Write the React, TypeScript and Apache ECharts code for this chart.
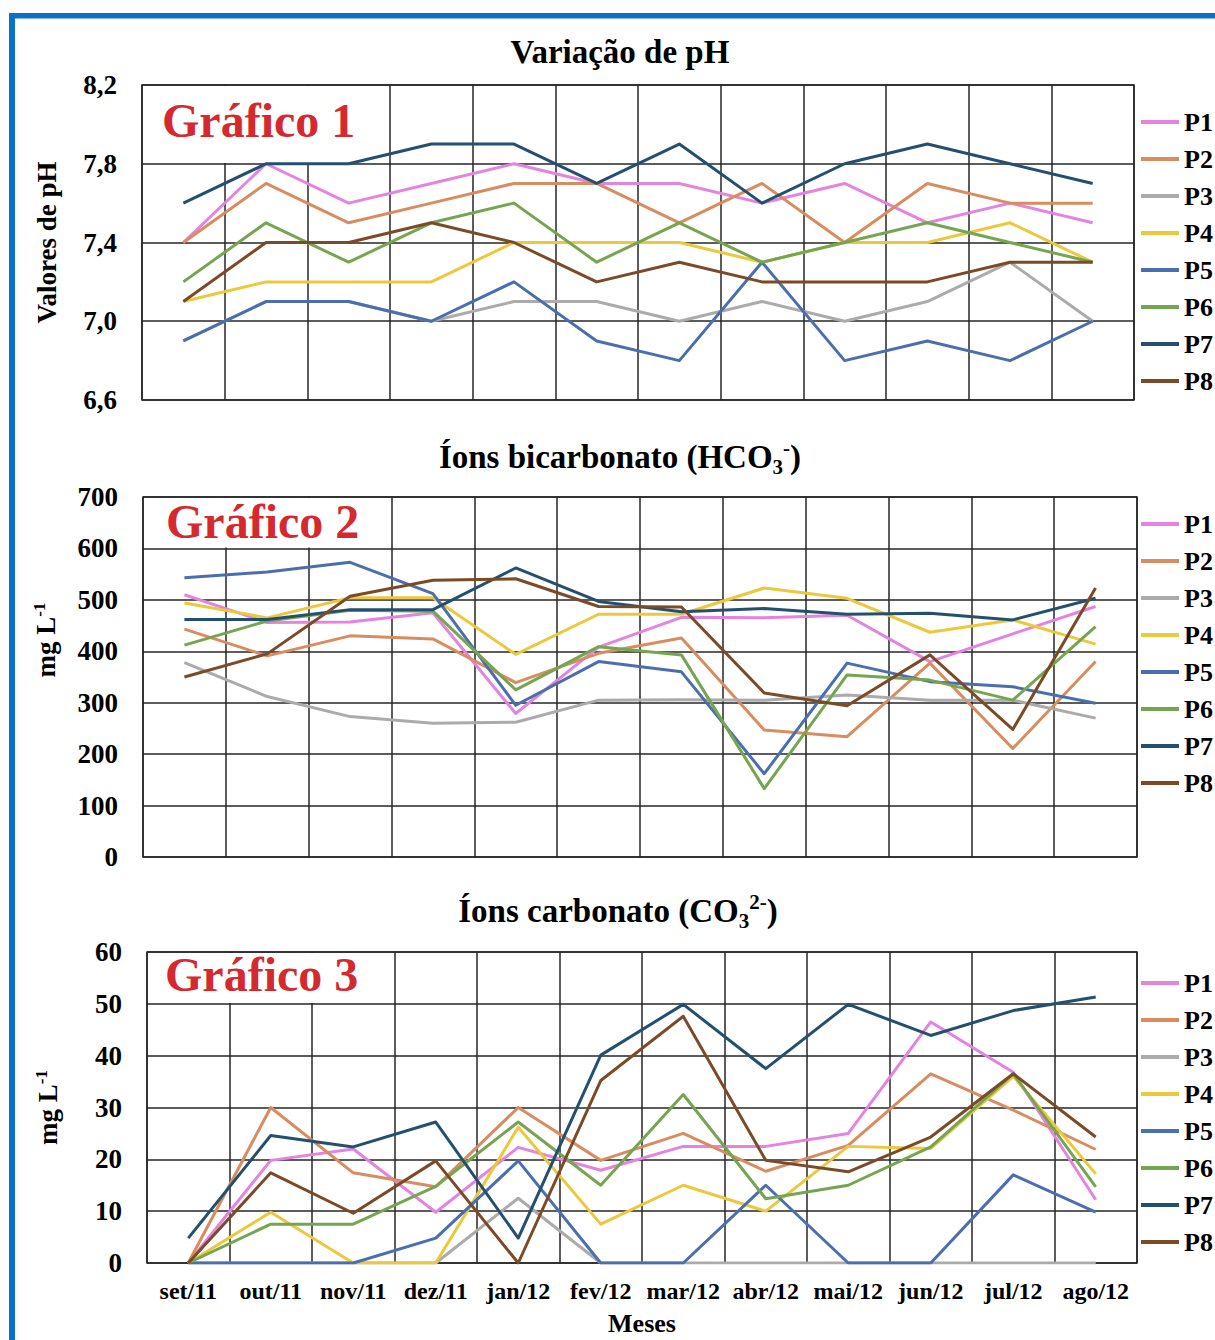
import { useEffect, useRef } from 'react';
import * as echarts from 'echarts';

// ---------- categories ----------
const months = ['set/11', 'out/11', 'nov/11', 'dez/11', 'jan/12', 'fev/12', 'mar/12', 'abr/12', 'mai/12', 'jun/12', 'jul/12', 'ago/12'];
const pointNames = ['P1', 'P2', 'P3', 'P4', 'P5', 'P6', 'P7', 'P8'];
const pointColors = ['#E284E0', '#D98C5F', '#ABABAB', '#EBC83C', '#4B6EAE', '#76A552', '#245070', '#7B4A26'];

// ---------- Gráfico 1 : pH ----------
const phP1 = [7.4, 7.8, 7.6, 7.7, 7.8, 7.7, 7.7, 7.6, 7.7, 7.5, 7.6, 7.5];
const phP2 = [7.4, 7.7, 7.5, 7.6, 7.7, 7.7, 7.5, 7.7, 7.4, 7.7, 7.6, 7.6];
const phP3 = [6.9, 7.1, 7.1, 7.0, 7.1, 7.1, 7.0, 7.1, 7.0, 7.1, 7.3, 7.0];
const phP4 = [7.1, 7.2, 7.2, 7.2, 7.4, 7.4, 7.4, 7.3, 7.4, 7.4, 7.5, 7.3];
const phP5 = [6.9, 7.1, 7.1, 7.0, 7.2, 6.9, 6.8, 7.3, 6.8, 6.9, 6.8, 7.0];
const phP6 = [7.2, 7.5, 7.3, 7.5, 7.6, 7.3, 7.5, 7.3, 7.4, 7.5, 7.4, 7.3];
const phP7 = [7.6, 7.8, 7.8, 7.9, 7.9, 7.7, 7.9, 7.6, 7.8, 7.9, 7.8, 7.7];
const phP8 = [7.1, 7.4, 7.4, 7.5, 7.4, 7.2, 7.3, 7.2, 7.2, 7.2, 7.3, 7.3];
const phSeries = [phP1, phP2, phP3, phP4, phP5, phP6, phP7, phP8];

// ---------- Gráfico 2 : HCO3- (mg/L) ----------
const hco3P1 = [510, 456, 457, 475, 279, 408, 466, 465, 470, 380, 434, 487];
const hco3P2 = [443, 391, 430, 424, 339, 396, 426, 247, 234, 377, 211, 380];
const hco3P3 = [378, 312, 273, 260, 262, 305, 306, 305, 315, 305, 305, 270];
const hco3P4 = [494, 465, 504, 504, 394, 472, 472, 523, 503, 437, 461, 414];
const hco3P5 = [543, 554, 573, 512, 295, 380, 360, 162, 377, 341, 331, 299];
const hco3P6 = [412, 459, 480, 478, 325, 409, 393, 133, 354, 344, 305, 448];
const hco3P7 = [462, 462, 481, 481, 562, 497, 477, 483, 472, 474, 461, 503];
const hco3P8 = [350, 395, 507, 538, 541, 487, 486, 319, 294, 393, 248, 523];
const hco3Series = [hco3P1, hco3P2, hco3P3, hco3P4, hco3P5, hco3P6, hco3P7, hco3P8];

// ---------- Gráfico 3 : CO3 2- (mg/L) ----------
const co3P1 = [0, 19.8, 22, 9.8, 22.3, 17.9, 22.5, 22.5, 25, 46.5, 36.8, 12.2];
const co3P2 = [0, 30, 17.4, 14.7, 30, 19.8, 25, 17.7, 22.7, 36.5, 29.5, 21.9];
const co3P3 = [0, 0, 0, 0, 12.5, 0, 0, 0, 0, 0, 0, 0];
const co3P4 = [0, 9.8, 0, 0, 26.2, 7.5, 15, 10, 22.5, 22.1, 36, 17.2];
const co3P5 = [0, 0, 0, 4.8, 19.7, 0, 0, 15, 0, 0, 17, 9.8];
const co3P6 = [0, 7.5, 7.5, 14.8, 27.2, 15, 32.5, 12.4, 15, 22.4, 36.5, 14.7];
const co3P7 = [4.8, 24.6, 22.4, 27.2, 4.8, 40.1, 49.9, 37.5, 49.9, 43.9, 48.7, 51.3];
const co3P8 = [0, 17.4, 9.6, 19.7, 0, 35.2, 47.6, 19.8, 17.6, 24.3, 36.5, 24.3];
const co3Series = [co3P1, co3P2, co3P3, co3P4, co3P5, co3P6, co3P7, co3P8];

// ---------- text ----------
const chartTitles = ['Variação de pH', 'Íons bicarbonato (HCO{sub|3}{sup|-})', 'Íons carbonato (CO{sub|3}{sup|2-})'];
const yNames = ['Valores de pH', 'mg L{sup|-1}', 'mg L{sup|-1}'];
const panelTags = ['Gráfico 1', 'Gráfico 2', 'Gráfico 3'];
const xName = 'Meses';

const FONT = "'Liberation Serif', 'Times New Roman', serif";
const GRID_COLOR = '#262626';

export default function App() {
  const ref = useRef<HTMLDivElement>(null);

  useEffect(() => {
    if (!ref.current) return;
    const chart = echarts.init(ref.current, null, { renderer: 'svg' });

    const grids = [
      { left: 142, top: 85, width: 992, height: 315 },
      { left: 143, top: 497, width: 994, height: 360 },
      { left: 147, top: 952, width: 990, height: 311 },
    ];
    const legendTops = [108, 510, 969];
    const titleTops = [32, 437, 891];
    const titleLefts = [620, 620, 618];
    const yNameGaps = [80, 82, 84];
    const yNamePads = [[0, 0, 0, 0], [0, 0, 0, 74], [0, 0, 0, 0]];
    const tagBoxes = [
      { x: 143.5, y: 86, w: 234, h: 77, tx: 162, ty: 120 },
      { x: 144.5, y: 498, w: 240, h: 49.5, tx: 166, ty: 521 },
      { x: 148.5, y: 953, w: 240, h: 50, tx: 165, ty: 974 },
    ];

    const boldBlack = { color: '#000', fontWeight: 'bold' as const, fontFamily: FONT };

    const xAxes = grids.map((_, i) => ({
      gridIndex: i,
      type: 'category' as const,
      data: months,
      boundaryGap: true,
      axisLine: { show: false },
      axisTick: { show: false },
      axisLabel: i === 2
        ? { show: true, interval: 0, fontSize: 24, margin: 16, ...boldBlack }
        : { show: false },
      splitLine: { show: true, interval: 0, lineStyle: { color: GRID_COLOR, width: 1.5 } },
      name: i === 2 ? xName : '',
      nameLocation: 'middle' as const,
      nameGap: 46,
      nameTextStyle: { fontSize: 26, lineHeight: 28, ...boldBlack },
    }));

    const yRanges = [
      { min: 6.6, max: 8.2, interval: 0.2 },
      { min: 0, max: 700, interval: 100 },
      { min: 0, max: 60, interval: 10 },
    ];

    const yAxes = grids.map((_, i) => ({
      gridIndex: i,
      type: 'value' as const,
      ...yRanges[i],
      axisLine: { show: false },
      axisTick: { show: false },
      axisLabel: {
        fontSize: 27,
        margin: 25,
        ...boldBlack,
        formatter: i === 0
          ? (v: number) => (Math.round(v * 10) % 4 === 2 ? v.toFixed(1).replace('.', ',') : '')
          : (v: number) => String(v),
      },
      splitLine: {
        show: true,
        lineStyle: { color: i === 0 ? [GRID_COLOR, 'rgba(0,0,0,0)'] : GRID_COLOR, width: 1.5 },
      },
      name: yNames[i],
      nameLocation: 'middle' as const,
      nameRotate: 90,
      nameGap: yNameGaps[i],
      nameTextStyle: {
        fontSize: 27,
        lineHeight: 30,
        padding: yNamePads[i],
        ...boldBlack,
        rich: {
          sup: { fontSize: 17, lineHeight: 17, verticalAlign: 'top', ...boldBlack },
        },
      },
    }));

    const datasets = [phSeries, hco3Series, co3Series];
    const series: any[] = [];
    datasets.forEach((set, gi) => {
      set.forEach((data, si) => {
        series.push({
          type: 'line',
          name: pointNames[si],
          data,
          xAxisIndex: gi,
          yAxisIndex: gi,
          symbol: 'none',
          showSymbol: false,
          silent: true,
          z: 3,
          lineStyle: { color: pointColors[si], width: 3, join: 'round' },
          itemStyle: { color: pointColors[si] },
          emphasis: { disabled: true },
        });
      });
    });

    const titles = chartTitles.map((t, i) => ({
      text: t,
      left: titleLefts[i],
      top: titleTops[i],
      textAlign: 'center' as const,
      padding: 0,
      textStyle: {
        fontSize: 33,
        lineHeight: 40,
        ...boldBlack,
        rich: {
          sub: { fontSize: 21, lineHeight: 21, verticalAlign: 'bottom', ...boldBlack },
          sup: { fontSize: 21, lineHeight: 21, verticalAlign: 'top', ...boldBlack },
        },
      },
    }));

    const legends = legendTops.map((top) => ({
      data: pointNames,
      orient: 'vertical' as const,
      left: 1141,
      top,
      padding: 0,
      icon: 'rect',
      itemWidth: 38,
      itemHeight: 4,
      itemGap: 9,
      selectedMode: false,
      textStyle: { fontSize: 26, lineHeight: 28, ...boldBlack },
    }));

    const graphics: any[] = [];
    tagBoxes.forEach((b, i) => {
      graphics.push({
        type: 'rect',
        z: 1,
        silent: true,
        shape: { x: b.x, y: b.y, width: b.w, height: b.h },
        style: { fill: '#fff' },
      });
      graphics.push({
        type: 'text',
        z: 1,
        silent: true,
        x: b.tx,
        y: b.ty,
        style: {
          text: panelTags[i],
          fill: '#D42A2F',
          fontSize: 48,
          fontWeight: 'bold',
          fontFamily: FONT,
          align: 'left',
          verticalAlign: 'middle',
        },
      });
    });
    // blue frame
    graphics.push({ type: 'rect', z: 10, silent: true, shape: { x: 9, y: 13, width: 1206, height: 5.5 }, style: { fill: '#0B70C6' } });
    graphics.push({ type: 'rect', z: 10, silent: true, shape: { x: 9, y: 13, width: 6, height: 1327 }, style: { fill: '#0B70C6' } });

    chart.setOption({
      animation: false,
      backgroundColor: '#fff',
      textStyle: { fontFamily: FONT },
      title: titles,
      legend: legends,
      grid: grids.map((g) => ({
        ...g,
        show: true,
        borderColor: GRID_COLOR,
        borderWidth: 1.5,
        backgroundColor: 'transparent',
        containLabel: false,
        outerBoundsMode: 'none',
      })),
      xAxis: xAxes,
      yAxis: yAxes,
      series,
      graphic: graphics,
    });

    return () => chart.dispose();
  }, []);

  return (
    <div
      ref={ref}
      style={{ position: 'fixed', left: 0, top: 0, width: 1215, height: 1340, background: '#fff' }}
    />
  );
}
